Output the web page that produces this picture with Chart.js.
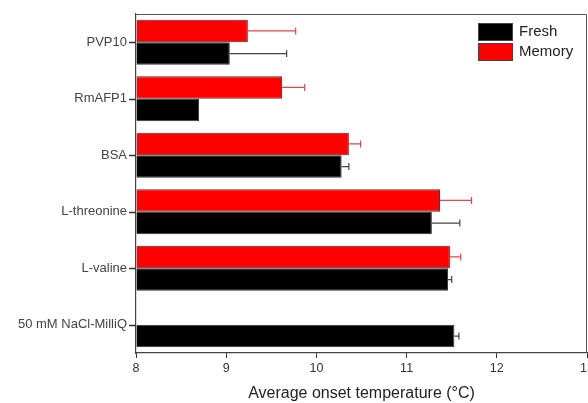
<!DOCTYPE html>
<html>
<head>
<meta charset="utf-8">
<script src="https://cdn.jsdelivr.net/npm/chart.js@4"></script>
<style>
  html, body { margin: 0; padding: 0; background: #fff; }
  #wrap { width: 588px; height: 403px; }
</style>
</head>
<body>
<div id="wrap"><canvas id="onset-chart"></canvas></div>
<script>
const categories = ["PVP10", "RmAFP1", "BSA", "L-threonine", "L-valine", "50 mM NaCl-MilliQ"];
const freshValues = [9.04, 8.70, 10.28, 11.28, 11.46, 11.53];
const freshErrors = [0.63, 0, 0.08, 0.31, 0.04, 0.05];
const memoryValues = [9.24, 9.62, 10.36, 11.37, 11.48, null];
const memoryErrors = [0.53, 0.25, 0.13, 0.35, 0.12, 0];
const xTicks = [8, 9, 10, 11, 12, 13];

const FONT = "'Liberation Sans', Arial, sans-serif";

// one-sided error bars (plus only), drawn after the bars
const errorBars = {
    id: "errorBars",
    afterDatasetsDraw(chart) {
        const ctx = chart.ctx;
        const xScale = chart.scales.x;
        chart.data.datasets.forEach((ds, i) => {
            const meta = chart.getDatasetMeta(i);
            ctx.save();
            ctx.strokeStyle = ds.errorColor;
            ctx.lineWidth = 1.2;
            meta.data.forEach((bar, j) => {
                const v = ds.data[j];
                const e = ds.errors[j];
                if (v == null || !e) return;
                const x0 = xScale.getPixelForValue(v);
                const x1 = xScale.getPixelForValue(v + e);
                ctx.beginPath();
                ctx.moveTo(x0, bar.y);
                ctx.lineTo(x1, bar.y);
                ctx.moveTo(x1, bar.y - 3.5);
                ctx.lineTo(x1, bar.y + 3.5);
                ctx.stroke();
            });
            ctx.restore();
        });
    }
};

// frame on top/right, y tick marks at category centres, legend upper right
const frameAndLegend = {
    id: "frameAndLegend",
    afterDraw(chart) {
        const ctx = chart.ctx;
        const a = chart.chartArea;
        const yScale = chart.scales.y;
        ctx.save();
        ctx.strokeStyle = "#555";
        ctx.lineWidth = 1;
        ctx.beginPath();
        ctx.moveTo(a.left, a.top + 0.5);
        ctx.lineTo(a.right - 0.5, a.top + 0.5);
        ctx.lineTo(a.right - 0.5, a.bottom);
        ctx.stroke();

        ctx.strokeStyle = "#333";
        ctx.lineWidth = 1.3;
        ctx.beginPath();
        categories.forEach((c, i) => {
            const y = Math.round(yScale.getPixelForTick(i)) + 0.5;
            ctx.moveTo(a.left - 7, y);
            ctx.lineTo(a.left, y);
        });
        ctx.stroke();

        const items = [chart.data.datasets[1], chart.data.datasets[0]];
        const bx = a.right - 109;
        let by = a.top + 9;
        ctx.font = "15px " + FONT;
        ctx.textBaseline = "middle";
        ctx.lineWidth = 1;
        items.forEach(ds => {
            ctx.fillStyle = ds.backgroundColor;
            ctx.fillRect(bx, by, 35, 18);
            ctx.strokeStyle = "#444";
            ctx.strokeRect(bx + 0.5, by + 0.5, 34, 17);
            ctx.fillStyle = "#222";
            ctx.fillText(ds.label, bx + 41, by + 9);
            by += 20;
        });
        ctx.restore();
    }
};

const onsetChart = new Chart(document.getElementById("onset-chart").getContext("2d"), {
    type: "bar",
    data: {
        labels: categories,
        datasets: [
            {
                label: "Memory",
                data: memoryValues,
                errors: memoryErrors,
                base: 8,
                backgroundColor: "#ff0000",
                borderColor: "#5a2a2a",
                borderWidth: 1,
                errorColor: "#e04848",
            },
            {
                label: "Fresh",
                data: freshValues,
                errors: freshErrors,
                base: 8,
                backgroundColor: "#000000",
                borderColor: "#333",
                borderWidth: 1,
                errorColor: "#444",
            },
        ],
    },
    options: {
        indexAxis: "y",
        responsive: true,
        maintainAspectRatio: false,
        animation: false,
        layout: { padding: { top: 14, right: 1, left: 0, bottom: 0 } },
        datasets: {
            bar: { categoryPercentage: 0.8, barPercentage: 1.0 }
        },
        plugins: {
            legend: { display: false },
            tooltip: { enabled: false },
        },
        scales: {
            x: {
                min: 8,
                max: 13,
                afterBuildTicks: s => { s.ticks = xTicks.map(v => ({ value: v })); },
                afterFit: s => { s.height = 50; s.paddingLeft = 0; s.paddingRight = 0; },
                grid: { drawOnChartArea: false, drawTicks: true, tickLength: 5, color: "#333" },
                border: { display: true, color: "#444", width: 1.2 },
                ticks: { color: "#333", font: { family: FONT, size: 12.5 }, padding: 3, maxRotation: 0 },
                title: {
                    display: true,
                    text: "Average onset temperature (°C)",
                    color: "#222",
                    font: { family: FONT, size: 16 },
                    padding: { top: 6, bottom: 0 },
                },
            },
            y: {
                afterFit: s => { s.width = 136; s.paddingTop = 0; s.paddingBottom = 0; },
                grid: { drawOnChartArea: false, drawTicks: false },
                border: { display: true, color: "#444", width: 1.2 },
                ticks: { color: "#444", font: { family: FONT, size: 13 }, padding: 9 },
            },
        },
    },
    plugins: [errorBars, frameAndLegend],
});
</script>
</body>
</html>
